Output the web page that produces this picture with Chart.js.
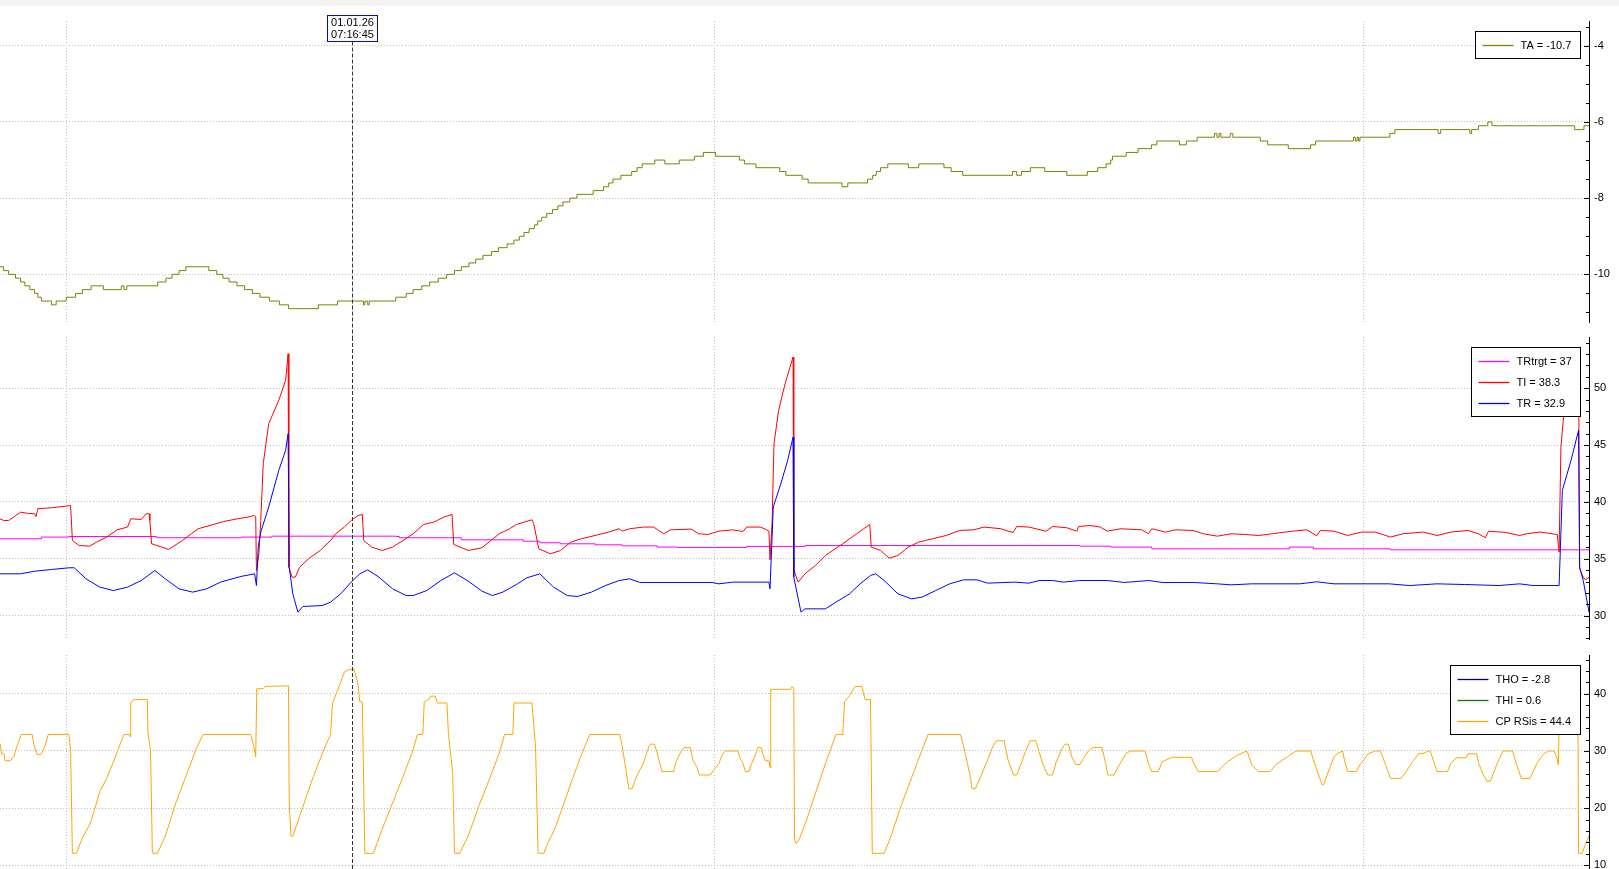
<!DOCTYPE html>
<html><head><meta charset="utf-8">
<script src="https://cdn.jsdelivr.net/npm/chart.js@4.4.1/dist/chart.umd.min.js"></script>
<style>
html,body{margin:0;padding:0;background:#fff;overflow:hidden;width:1619px;height:869px;}
#topbar{position:absolute;left:0;top:0;width:1619px;height:6px;background:#f3f3f3;}
canvas{position:absolute;left:0;}
</style></head><body>
<div id="topbar"></div>
<canvas id="c1" width="1619" height="337" style="top:0px"></canvas>
<canvas id="c2" width="1619" height="318" style="top:337px"></canvas>
<canvas id="c3" width="1619" height="214" style="top:655px"></canvas>
<script>
// ---- time axis (minutes since midnight) ----
const gridTimes = [360, 540, 720];
const timeRange = [341.5, 782.7];
const cursorTime = 439.1;
const cursorLabel = ['01.01.26', '07:16:45'];

// ---- tick labels ----
const taTicks = [-10, -8, -6, -4];
const trTicks = [30, 35, 40, 45, 50];
const cpTicks = [10, 20, 30, 40];

// ---- legends ----
const taNames = ['TA'];      const taLegendValues = ['-10.7'];
const trNames = ['TRtrgt', 'TI', 'TR']; const trLegendValues = ['37', '38.3', '32.9'];
const cpNames = ['THO', 'THI', 'CP RSis']; const cpLegendValues = ['-2.8', '0.6', '44.4'];

// ---- series: [time, value] ----
const taData = [[341.5,-9.8],[342.5,-9.9],[343.9,-10.0],[345.8,-10.1],[347.2,-10.2],[348.4,-10.3],[349.8,-10.4],[351.1,-10.5],[352.0,-10.6],[353.0,-10.7],[355.8,-10.8],[357.1,-10.7],[359.9,-10.6],[362.5,-10.5],[364.4,-10.4],[366.8,-10.3],[370.2,-10.4],[375.2,-10.3],[375.9,-10.4],[376.7,-10.3],[385.3,-10.2],[387.6,-10.1],[389.3,-10.0],[391.2,-9.9],[393.1,-9.8],[399.5,-9.9],[401.7,-10.0],[403.4,-10.1],[405.1,-10.2],[407.3,-10.3],[409.4,-10.4],[411.6,-10.5],[413.7,-10.6],[416.3,-10.7],[419.1,-10.8],[421.6,-10.9],[429.9,-10.8],[435.2,-10.7],[442.4,-10.8],[442.8,-10.7],[443.6,-10.8],[444.0,-10.7],[451.4,-10.6],[454.3,-10.5],[456.2,-10.4],[458.6,-10.3],[460.8,-10.2],[463.2,-10.1],[465.5,-10.0],[467.7,-9.9],[469.6,-9.8],[471.7,-9.7],[473.6,-9.6],[475.6,-9.5],[478.0,-9.4],[479.9,-9.3],[482.3,-9.2],[484.2,-9.1],[485.7,-9.0],[487.0,-8.9],[488.4,-8.8],[489.9,-8.7],[490.8,-8.6],[491.9,-8.5],[493.3,-8.4],[494.9,-8.3],[496.4,-8.2],[497.8,-8.1],[499.7,-8.0],[501.7,-7.9],[506.2,-7.8],[509.1,-7.7],[510.5,-7.6],[511.7,-7.5],[513.9,-7.4],[516.9,-7.3],[518.4,-7.2],[519.8,-7.1],[523.3,-7.0],[526.1,-7.1],[530.1,-7.0],[534.3,-6.9],[536.8,-6.8],[540.2,-6.9],[546.8,-7.0],[548.2,-7.1],[551.4,-7.2],[558.0,-7.3],[559.7,-7.4],[564.2,-7.5],[565.9,-7.6],[575.3,-7.7],[576.9,-7.6],[582.4,-7.5],[583.8,-7.4],[584.8,-7.3],[586.0,-7.2],[588.0,-7.1],[593.7,-7.2],[596.6,-7.1],[603.6,-7.2],[605.6,-7.3],[608.8,-7.4],[622.6,-7.3],[623.8,-7.4],[625.1,-7.3],[627.6,-7.2],[631.6,-7.3],[637.7,-7.4],[643.4,-7.3],[646.3,-7.2],[648.6,-7.1],[649.9,-7.0],[650.4,-6.9],[654.2,-6.8],[657.5,-6.7],[661.2,-6.6],[662.7,-6.5],[669.0,-6.6],[670.9,-6.5],[673.9,-6.4],[678.7,-6.3],[679.4,-6.4],[680.0,-6.3],[680.5,-6.4],[683.1,-6.3],[683.8,-6.4],[691.4,-6.5],[693.5,-6.6],[699.2,-6.7],[705.4,-6.6],[706.8,-6.5],[717.3,-6.4],[717.8,-6.5],[718.3,-6.4],[718.7,-6.5],[719.1,-6.4],[727.4,-6.3],[728.8,-6.2],[740.8,-6.3],[741.5,-6.2],[749.6,-6.3],[750.1,-6.2],[752.0,-6.1],[754.6,-6.0],[755.8,-6.1],[778.7,-6.2],[781.3,-6.1],[782.7,-6.1]];

const trtgtData = [[341.5,36.76],[353.0,36.91],[360.6,36.96],[385.0,36.85],[408.4,36.91],[417.0,36.99],[451.4,36.96],[452.4,36.85],[469.6,36.67],[486.8,36.55],[491.4,36.41],[497.1,36.32],[506.7,36.23],[514.3,36.14],[523.9,36.03],[529.6,36.0],[548.8,36.09],[565.0,36.17],[641.3,36.11],[649.9,36.03],[661.3,35.88],[699.5,36.03],[706.2,35.88],[727.6,35.79],[782.7,35.79]];

const tiData = [[341.5,38.52],[342.5,38.37],[343.9,38.37],[345.3,38.67],[347.2,39.1],[349.1,39.0],[351.1,38.96],[351.5,38.72],[352.0,39.4],[355.8,39.49],[360.6,39.66],[361.1,39.69],[361.6,36.61],[363.5,36.17],[366.4,36.11],[368.3,36.47],[371.1,36.9],[374.0,37.55],[376.9,37.79],[377.8,38.52],[380.7,38.46],[382.1,38.96],[382.9,38.96],[383.1,38.37],[383.6,36.32],[386.4,36.03],[388.3,35.82],[389.3,36.03],[392.2,36.61],[394.6,37.2],[396.5,37.64],[399.8,37.93],[403.6,38.28],[407.5,38.52],[410.3,38.67],[412.1,38.81],[412.5,38.72],[412.7,33.97],[413.4,35.44],[413.9,38.37],[414.6,43.36],[416.1,46.88],[418.9,48.93],[420.8,50.69],[421.5,53.03],[421.7,34.27],[422.6,33.39],[423.5,33.39],[424.7,34.27],[427.5,35.09],[430.4,35.73],[433.3,36.61],[434.7,37.2],[437.1,37.79],[439.0,38.37],[440.9,38.81],[442.1,38.9],[442.5,36.61],[444.7,36.03],[447.6,35.73],[450.5,36.03],[453.4,36.61],[456.2,37.2],[459.1,38.02],[462.0,38.23],[464.8,38.67],[467.0,38.9],[467.5,36.26],[471.5,35.73],[475.3,35.97],[477.3,36.47],[480.1,37.2],[483.0,37.64],[484.9,38.02],[489.2,38.43],[489.7,38.08],[491.1,35.88],[494.3,35.44],[497.1,35.73],[500.0,36.47],[502.9,36.76],[506.7,37.05],[510.5,37.35],[513.4,37.64],[514.3,37.43],[516.3,37.64],[520.1,37.79],[523.0,37.79],[524.4,37.49],[525.8,37.2],[527.7,37.55],[533.5,37.61],[535.4,37.2],[538.2,37.14],[541.1,37.43],[544.9,37.55],[547.8,37.4],[548.8,37.79],[552.6,37.79],[554.0,37.61],[555.0,37.43],[555.3,34.91],[555.9,38.37],[556.4,45.12],[557.7,48.05],[559.5,50.4],[561.7,52.74],[561.9,34.12],[562.3,33.68],[563.1,32.95],[565.0,33.68],[567.9,34.41],[570.7,35.29],[572.7,35.73],[575.5,36.32],[577.4,36.76],[579.4,37.2],[581.3,37.64],[583.0,38.02],[583.4,36.03],[586.0,35.73],[588.4,35.06],[590.8,35.29],[593.7,36.03],[596.6,36.47],[600.4,36.76],[604.2,37.05],[608.0,37.49],[611.9,37.55],[614.7,37.79],[619.5,37.64],[621.4,37.43],[622.8,37.32],[623.8,37.84],[627.2,37.79],[631.9,37.43],[633.8,37.84],[637.7,37.73],[640.5,37.43],[641.0,37.84],[644.2,37.93],[647.0,37.79],[648.9,37.43],[652.7,37.64],[658.5,37.55],[660.4,37.2],[661.3,37.64],[665.1,37.35],[668.0,37.55],[672.8,37.49],[675.6,37.2],[679.5,36.99],[683.3,37.2],[687.1,37.14],[690.9,37.05],[694.7,37.2],[700.4,37.43],[704.3,37.55],[707.1,37.02],[708.1,37.49],[711.9,37.43],[715.7,37.05],[719.5,37.35],[723.3,37.35],[727.6,36.91],[731.0,37.2],[736.7,37.35],[740.5,37.05],[744.3,37.35],[749.1,37.49],[752.0,37.2],[753.9,36.85],[754.8,37.43],[759.6,37.32],[763.4,37.05],[765.3,37.2],[769.1,37.35],[773.9,37.14],[774.4,35.59],[774.9,44.82],[775.8,48.05],[779.8,53.0],[780.1,34.12],[781.1,33.39],[781.7,33.15],[782.7,33.39]];

const trData = [[341.5,33.68],[347.2,33.68],[351.1,33.91],[355.8,34.06],[360.6,34.21],[362.1,34.21],[365.4,33.24],[369.2,32.51],[373.0,32.21],[376.9,32.51],[380.7,33.09],[384.5,33.97],[387.4,33.24],[391.2,32.36],[395.0,32.07],[398.9,32.36],[402.7,32.95],[408.4,33.45],[412.2,33.68],[412.7,32.65],[413.2,36.03],[413.9,37.35],[416.1,39.55],[418.9,42.77],[420.8,44.53],[421.5,46.0],[421.8,34.27],[422.8,31.92],[424.2,30.31],[425.6,30.81],[430.9,30.89],[433.3,31.19],[436.1,31.92],[439.0,32.95],[441.4,33.68],[443.6,34.03],[446.7,33.39],[450.5,32.36],[454.3,31.77],[456.2,31.77],[460.0,32.21],[463.9,33.09],[467.7,33.77],[471.5,33.04],[475.3,32.16],[478.2,31.77],[481.1,32.07],[484.9,32.74],[487.8,33.33],[491.4,33.68],[495.2,32.51],[499.0,31.77],[501.9,31.69],[505.7,32.07],[509.6,32.65],[513.4,33.09],[516.3,33.24],[519.1,32.92],[539.2,32.92],[541.1,32.8],[544.9,32.95],[555.0,32.95],[555.3,32.36],[556.2,39.55],[558.3,41.6],[560.2,43.65],[561.7,45.7],[561.9,33.39],[563.9,30.31],[565.0,30.6],[570.7,30.6],[573.6,31.19],[577.4,31.92],[580.3,32.8],[583.2,33.53],[584.6,33.68],[587.0,33.09],[590.8,31.92],[594.6,31.48],[597.5,31.63],[601.3,32.21],[605.2,32.8],[609.0,33.15],[612.8,33.15],[615.7,32.86],[623.3,32.95],[627.2,32.86],[630.0,33.09],[633.8,33.09],[636.7,32.95],[641.3,33.09],[648.9,33.09],[653.7,32.92],[660.4,33.09],[664.2,32.92],[672.8,32.92],[679.5,32.8],[683.3,32.71],[689.0,32.8],[702.4,32.8],[707.1,32.98],[711.9,32.8],[727.2,32.8],[732.9,32.65],[740.5,32.8],[748.1,32.74],[757.7,32.65],[763.4,32.8],[767.2,32.65],[774.4,32.65],[775.3,41.01],[777.7,43.65],[779.8,46.29],[780.1,34.27],[781.1,33.09],[782.7,30.31]];

const thoData = [];
const thiData = [];
const cpData = [[341.5,31.3],[342.0,29.5],[342.6,29.5],[342.9,28.3],[344.4,28.3],[345.3,29.0],[346.3,31.0],[347.4,32.9],[350.4,32.9],[351.1,30.6],[351.8,29.4],[352.8,29.4],[353.9,30.7],[354.9,32.9],[360.6,32.9],[361.1,30.2],[361.6,12.1],[362.7,12.1],[364.4,14.8],[366.8,17.7],[369.2,22.9],[371.1,25.2],[373.0,28.1],[375.9,32.9],[377.4,32.9],[377.6,32.5],[377.8,38.4],[378.6,39.0],[382.4,39.0],[382.6,33.1],[383.3,30.2],[383.8,12.1],[385.2,12.1],[387.4,15.1],[390.3,20.9],[393.1,25.5],[396.0,30.4],[397.9,32.9],[411.1,32.9],[411.8,31.3],[412.5,29.0],[412.8,40.9],[414.6,40.9],[415.1,41.3],[421.6,41.4],[421.8,20.9],[422.3,15.1],[422.8,15.1],[424.7,18.6],[426.6,22.1],[428.5,25.5],[431.4,30.2],[433.3,32.9],[433.8,38.3],[435.7,41.4],[437.1,43.8],[438.5,44.3],[439.8,44.3],[440.9,41.7],[441.4,38.6],[442.1,38.6],[442.8,12.1],[445.2,12.1],[447.6,16.3],[450.5,20.9],[453.4,25.5],[456.2,30.2],[457.4,32.9],[458.9,32.9],[459.3,38.6],[460.5,39.0],[461.0,39.6],[462.4,39.6],[462.9,38.4],[465.6,38.4],[466.0,33.1],[467.2,26.1],[467.7,12.1],[469.1,12.1],[471.5,15.1],[474.4,20.3],[477.3,24.9],[480.1,29.6],[481.6,32.9],[483.9,32.9],[484.2,38.4],[489.2,38.4],[490.2,30.7],[490.9,12.1],[492.5,12.1],[493.3,13.4],[495.7,16.6],[498.1,20.9],[500.5,25.2],[502.9,29.3],[505.3,32.9],[513.6,32.9],[514.3,30.7],[515.3,26.7],[516.1,23.4],[517.0,23.4],[518.2,25.5],[520.1,27.8],[521.8,31.0],[522.2,31.2],[523.2,31.2],[523.9,29.9],[524.7,27.8],[525.3,26.4],[528.5,26.4],[529.2,28.1],[530.6,29.9],[531.4,30.6],[533.2,30.6],[533.9,28.4],[534.9,27.3],[535.7,25.8],[538.7,25.8],[539.7,26.7],[541.1,27.8],[542.1,29.5],[543.0,30.0],[546.4,30.0],[546.8,29.0],[547.8,27.8],[548.5,26.4],[549.4,26.4],[550.2,27.8],[551.2,29.3],[551.9,30.6],[552.8,30.6],[553.3,29.5],[554.0,28.3],[555.0,28.3],[555.3,27.1],[555.5,40.8],[561.0,40.8],[561.5,41.3],[561.9,40.9],[562.1,14.5],[562.6,13.8],[563.6,14.8],[565.5,18.0],[567.9,22.6],[570.7,27.8],[573.6,32.9],[575.5,32.9],[576.0,38.6],[577.4,39.7],[578.9,41.3],[580.8,41.3],[581.7,39.0],[583.2,39.0],[583.7,12.1],[587.0,12.1],[588.9,15.1],[591.3,19.7],[593.7,23.8],[596.1,27.8],[598.0,31.0],[599.2,32.9],[608.2,32.9],[609.5,29.6],[610.9,25.5],[611.4,23.4],[612.3,23.4],[613.8,25.5],[615.7,28.4],[617.1,30.7],[618.1,31.8],[620.3,31.8],[621.4,28.4],[622.9,25.8],[623.8,25.8],[625.2,28.1],[626.2,29.9],[627.6,31.8],[629.1,31.8],[630.0,29.9],[631.0,27.8],[632.4,25.8],[633.7,25.8],[634.8,28.1],[636.2,30.2],[637.2,31.2],[638.1,31.2],[639.1,29.0],[640.1,27.7],[641.3,27.6],[642.3,28.7],[643.7,30.0],[644.9,30.6],[647.5,30.6],[648.5,27.8],[649.1,25.8],[650.8,25.8],[652.3,27.6],[654.2,29.6],[655.4,30.0],[659.4,30.0],[660.4,27.8],[661.3,26.4],[663.1,26.4],[664.2,28.1],[666.9,28.9],[672.3,28.9],[673.0,27.8],[674.2,26.4],[679.5,26.4],[680.9,27.3],[682.3,28.1],[683.8,28.7],[685.2,29.3],[686.6,29.7],[687.6,30.0],[688.0,29.6],[689.0,27.6],[690.9,26.4],[694.2,26.4],[695.7,27.6],[697.6,28.4],[699.0,29.0],[701.4,30.0],[705.4,30.0],[707.1,26.7],[708.6,24.1],[709.0,24.1],[710.5,26.7],[711.9,29.0],[712.9,29.6],[714.3,30.0],[714.8,28.4],[715.7,26.4],[718.1,26.4],[719.1,27.6],[720.5,28.7],[721.4,29.5],[723.3,30.0],[724.8,30.0],[726.2,27.6],[727.6,25.2],[730.5,25.2],[731.9,26.4],[733.4,27.8],[735.3,29.5],[736.7,29.6],[738.1,30.0],[738.6,30.0],[739.6,28.1],[740.5,26.4],[743.4,26.4],[744.3,27.8],[745.8,28.8],[748.6,28.8],[749.1,29.5],[751.5,29.5],[752.2,27.6],[753.4,25.8],[754.4,24.7],[755.3,24.7],[757.2,27.8],[758.8,30.0],[761.5,30.0],[762.6,27.6],[763.9,25.2],[766.3,25.2],[768.2,27.8],[770.1,29.5],[771.5,30.0],[773.0,30.0],[773.7,29.0],[774.2,27.6],[774.6,40.9],[779.6,40.9],[779.8,12.1],[780.8,12.1],[781.5,13.4],[782.7,15.1]];

// ---- rendering ----
Chart.defaults.font.family = '"Liberation Sans", Arial, sans-serif';
Chart.defaults.font.size = 11;
Chart.defaults.color = '#000';

const GRID = '#bdbdbd';
const toXY = arr => arr.map(p => ({x: p[0], y: p[1]}));

const decor = {
  id: 'decor',
  afterDatasetsDraw(chart, args, o) {
    const ctx = chart.ctx, xs = chart.scales.x, ys = chart.scales.y, ca = chart.chartArea;
    ctx.save();
    // inward tick marks on the right axis
    ctx.strokeStyle = '#000'; ctx.lineWidth = 1;
    const k0 = Math.ceil(ys.min / o.minorStep - 1e-9), k1 = Math.floor(ys.max / o.minorStep + 1e-9);
    for (let k = k0; k <= k1; k++) {
      const v = k * o.minorStep;
      const y = Math.round(ys.getPixelForValue(v)) + 0.5;
      const major = o.major.some(m => Math.abs(m - v) < 1e-6);
      const len = major ? 5 : 3;
      ctx.beginPath(); ctx.moveTo(ca.right - len, y); ctx.lineTo(ca.right, y); ctx.stroke();
    }
    // cursor
    const cx = Math.round(xs.getPixelForValue(o.cursor)) + 0.5;
    let top = 0;
    if (o.cursorLabel) {
      const bx = cx - 25, by = 15.5, bw = 50, bh = 26;
      ctx.fillStyle = '#fff'; ctx.fillRect(bx, by, bw, bh);
      ctx.strokeStyle = '#0000ff'; ctx.strokeRect(bx, by, bw, bh);
      ctx.fillStyle = '#000'; ctx.font = '11px "Liberation Sans", Arial, sans-serif';
      ctx.textAlign = 'center'; ctx.textBaseline = 'middle';
      ctx.fillText(o.cursorLabel[0], cx, by + 7.5);
      ctx.fillText(o.cursorLabel[1], cx, by + 19.5);
      top = by + bh;
    }
    ctx.strokeStyle = '#333'; ctx.setLineDash([4, 2]);
    ctx.beginPath(); ctx.moveTo(cx, top); ctx.lineTo(cx, chart.height); ctx.stroke();
    ctx.setLineDash([]);
    // legend box
    ctx.font = '11px "Liberation Sans", Arial, sans-serif';
    const items = chart.data.datasets.map(d => ({text: d.label, color: d.borderColor}));
    const tw = Math.max(...items.map(it => ctx.measureText(it.text).width));
    const w = Math.round(45 + tw + 9), h = 27 + 21 * (items.length - 1);
    const right = Math.round(ca.right - 9) + 0.5, ltop = Math.round(ca.top + 10) + 0.5;
    const left = right - w;
    ctx.fillStyle = '#fff'; ctx.fillRect(left, ltop, w, h);
    ctx.strokeStyle = '#000'; ctx.lineWidth = 1; ctx.strokeRect(left, ltop, w, h);
    ctx.textAlign = 'left'; ctx.textBaseline = 'middle';
    items.forEach((it, i) => {
      const y = Math.round(ltop + 13 + 21 * i) + 0.5;
      ctx.strokeStyle = it.color; ctx.lineWidth = 1.3;
      ctx.beginPath(); ctx.moveTo(left + 7, y); ctx.lineTo(left + 38, y); ctx.stroke();
      ctx.fillStyle = '#000';
      ctx.fillText(it.text, left + 45, y);
    });
    ctx.restore();
  }
};

function makeChart(id, datasets, yRange, ticks, minorStep, pad, withLabel) {
  return new Chart(document.getElementById(id), {
    type: 'line',
    data: { datasets },
    options: {
      responsive: false, animation: false, devicePixelRatio: 1,
      layout: { padding: { top: pad[0], bottom: pad[1], left: 0, right: 0 } },
      elements: { point: { radius: 0 }, line: { borderWidth: 1, tension: 0 } },
      plugins: {
        legend: { display: false }, tooltip: { enabled: false },
        decor: { major: ticks, minorStep, cursor: cursorTime, cursorLabel: withLabel ? cursorLabel : null }
      },
      scales: {
        x: {
          type: 'linear', min: timeRange[0], max: timeRange[1],
          ticks: { display: false },
          grid: { color: GRID, drawTicks: false, lineWidth: 1 },
          border: { display: false, dash: [1, 2] },
          afterBuildTicks: s => { s.ticks = gridTimes.map(v => ({ value: v })); },
          afterFit: s => { s.height = 0; s.paddingLeft = 0; s.paddingRight = 0; }
        },
        y: {
          type: 'linear', position: 'right', min: yRange[0], max: yRange[1],
          ticks: { color: '#000', padding: 5, font: { size: 11 } },
          grid: { color: GRID, drawTicks: false, lineWidth: 1 },
          border: { display: true, color: '#000', width: 1, dash: [1, 2] },
          afterBuildTicks: s => { s.ticks = ticks.map(v => ({ value: v })); },
          afterFit: s => { s.width = 30; s.paddingTop = 0; s.paddingBottom = 0; }
        }
      }
    },
    plugins: [decor]
  });
}

const lbl = (names, vals, i) => names[i] + ' = ' + vals[i];

makeChart('c1', [
  { label: lbl(taNames, taLegendValues, 0), data: toXY(taData), borderColor: '#808000', stepped: true }
], [-11.25, -3.35], taTicks, 0.5, [21, 15], true);

makeChart('c2', [
  { label: lbl(trNames, trLegendValues, 0), data: toXY(trtgtData), borderColor: '#ff00ff', stepped: true, order: 2 },
  { label: lbl(trNames, trLegendValues, 1), data: toXY(tiData), borderColor: '#ff0000', order: 1 },
  { label: lbl(trNames, trLegendValues, 2), data: toXY(trData), borderColor: '#0000ff', order: 0 }
], [27.95, 54.5], trTicks, 1, [0, 16], false);

makeChart('c3', [
  { label: lbl(cpNames, cpLegendValues, 0), data: toXY(thoData), borderColor: '#000080' },
  { label: lbl(cpNames, cpLegendValues, 1), data: toXY(thiData), borderColor: '#008000' },
  { label: lbl(cpNames, cpLegendValues, 2), data: toXY(cpData), borderColor: '#ffa500' }
], [9.35, 46.8], cpTicks, 2, [0, 0], false);
</script>
</body></html>
